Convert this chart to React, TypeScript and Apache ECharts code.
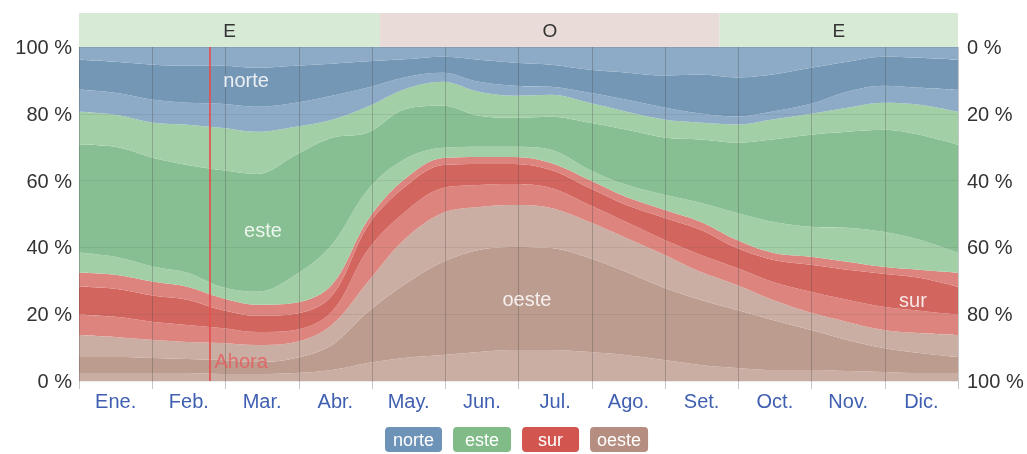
import React, { useEffect, useRef } from "react";
import * as echarts from "echarts";

const months = ["Ene.", "Feb.", "Mar.", "Abr.", "May.", "Jun.", "Jul.", "Ago.", "Set.", "Oct.", "Nov.", "Dic."];
const days = [0, 15, 31, 45, 59, 74, 90, 105, 120, 135, 151, 166, 181, 196, 212, 227, 243, 258, 273, 288, 304, 319, 334, 349, 365];

// stacked from bottom to top (% of time)
const oesteNW = [2.4, 2.4, 2.4, 2.4, 2.1, 2.1, 2.4, 3.3, 5.4, 6.9, 7.8, 8.7, 9.3, 9.3, 8.7, 7.8, 6.3, 4.8, 3.9, 3.3, 3.3, 3.0, 2.7, 2.4, 2.4];
const oestePure = [4.8, 4.8, 4.5, 4.2, 4.2, 3.6, 4.5, 7.5, 15.3, 21.9, 27.8, 30.5, 30.8, 30.5, 28.1, 24.9, 21.6, 19.5, 17.4, 15.0, 12.0, 9.3, 7.2, 6.0, 4.8];
const oesteSW = [6.6, 6.0, 5.4, 5.1, 5.1, 5.1, 4.8, 6.0, 9.0, 13.5, 14.7, 12.9, 12.6, 12.0, 10.8, 10.2, 9.9, 8.4, 7.5, 6.0, 5.1, 5.4, 5.4, 6.0, 6.6];
const surSW = [6.0, 6.0, 5.4, 5.1, 4.5, 3.9, 3.6, 3.9, 9.6, 8.1, 7.5, 6.6, 6.3, 6.0, 5.1, 4.8, 4.5, 5.1, 5.1, 5.4, 6.3, 6.6, 6.9, 6.6, 6.0];
const surPure = [8.4, 8.4, 7.8, 7.5, 5.4, 4.8, 4.8, 4.8, 7.2, 7.5, 6.9, 6.3, 6.0, 5.4, 5.1, 5.1, 6.6, 7.5, 6.0, 6.6, 8.1, 9.0, 9.9, 9.9, 8.4];
const surSE = [4.2, 4.2, 4.2, 3.9, 3.6, 3.3, 3.3, 3.3, 1.8, 2.4, 2.1, 2.1, 2.1, 2.1, 2.4, 2.4, 2.4, 2.4, 2.4, 2.1, 2.4, 2.4, 2.1, 2.4, 4.2];
const esteSE = [6.0, 5.4, 4.5, 4.2, 3.3, 3.9, 8.4, 12.0, 9.0, 6.0, 3.0, 3.0, 3.0, 3.9, 3.0, 3.6, 4.5, 5.7, 8.1, 9.3, 9.0, 10.2, 10.5, 9.0, 6.0];
const estePure = [32.3, 32.9, 32.6, 32.3, 35.0, 35.3, 35.9, 32.0, 17.1, 15.0, 12.6, 9.3, 8.7, 9.9, 14.1, 16.5, 17.1, 18.9, 21.0, 24.6, 27.5, 28.7, 30.5, 31.4, 32.3];
const esteNE = [9.9, 9.6, 10.5, 12.0, 12.6, 12.6, 8.4, 5.4, 7.8, 6.0, 7.2, 7.2, 6.6, 6.6, 6.0, 5.4, 5.4, 5.1, 5.4, 6.0, 6.3, 7.2, 8.1, 9.0, 9.9];
const norteNE = [6.6, 6.6, 6.9, 6.6, 7.2, 7.5, 7.2, 7.2, 5.7, 3.6, 2.7, 3.0, 3.0, 2.4, 3.0, 3.6, 3.6, 2.7, 2.4, 2.4, 3.0, 4.8, 5.1, 5.1, 6.6];
const nortePure = [9.0, 9.3, 10.5, 11.1, 11.4, 11.7, 11.1, 9.6, 7.8, 5.4, 4.8, 6.6, 6.9, 6.6, 6.9, 8.1, 9.6, 11.7, 11.7, 11.1, 10.8, 9.0, 8.7, 9.0, 9.0];
const norteNW = [3.9, 4.5, 5.4, 5.7, 5.7, 6.3, 5.7, 5.1, 4.5, 3.9, 3.0, 3.9, 4.8, 5.4, 6.9, 7.8, 8.7, 8.4, 9.3, 8.4, 6.3, 4.5, 3.0, 3.3, 3.9];

// predominant direction band on top
const bandLabels = ["E", "O", "E"];
const bandStarts = [0, 125, 266];
const bandEnds = [125, 266, 365];

const yTicks = [0, 20, 40, 60, 80, 100];
const nowDay = 54.4;

// in-area labels: [day, %]
const areaLabelNames = ["norte", "este", "oeste", "sur"];
const areaLabelDays = [69.4, 76.4, 186.0, 346.3];
const areaLabelPct = [90.1, 45.2, 24.6, 24.3];

const legendNames = ["norte", "este", "sur", "oeste"];

const DAY_MS = 86400000;
const T0 = Date.UTC(2023, 0, 1);
const t = (d: number) => T0 + d * DAY_MS;

export default function App() {
  const ref = useRef<HTMLDivElement>(null);
  useEffect(() => {
    const chart = echarts.init(ref.current as HTMLDivElement, null, { renderer: "svg" });
    const font = "'Liberation Sans', Arial, Helvetica, sans-serif";
    const C = {
      norteD: "#7597b6", norteL: "#8daac6",
      esteD: "#88bf92", esteL: "#a2cfa6",
      surD: "#d3655f", surL: "#dd847e",
      oesteD: "#bc9c8f", oesteL: "#caaea3",
    };
    const legendColors: Record<string, string> = {
      norte: "#6e93b8", este: "#80bb88", sur: "#d2554f", oeste: "#b68d81",
    };
    const legendPadX: Record<string, number> = { norte: 8, este: 12, sur: 16, oeste: 7 };
    const layers = [
      { name: "oeste-no", data: oesteNW, color: C.oesteL },
      { name: "oeste", data: oestePure, color: C.oesteD },
      { name: "oeste-so", data: oesteSW, color: C.oesteL },
      { name: "sur-so", data: surSW, color: C.surL },
      { name: "sur", data: surPure, color: C.surD },
      { name: "sur-se", data: surSE, color: C.surL },
      { name: "este-se", data: esteSE, color: C.esteL },
      { name: "este", data: estePure, color: C.esteD },
      { name: "este-ne", data: esteNE, color: C.esteL },
      { name: "norte-ne", data: norteNE, color: C.norteL },
      { name: "norte", data: nortePure, color: C.norteD },
      { name: "norte-no", data: norteNW, color: C.norteL },
    ];
    const series: any[] = layers.map((l) => ({
      name: l.name,
      type: "line",
      stack: "dir",
      xAxisIndex: 1,
      yAxisIndex: 0,
      data: days.map((d, i) => [t(d), l.data[i]]),
      showSymbol: false,
      symbol: "none",
      smooth: 0.35,
      color: legendColors[l.name] || l.color,
      lineStyle: { width: 0 },
      areaStyle: { color: l.color, opacity: 1 },
      silent: true,
      z: 2,
    }));
    series.push({
      name: "marcas",
      type: "line",
      xAxisIndex: 1,
      yAxisIndex: 0,
      data: [],
      silent: true,
      z: 10,
      markLine: {
        silent: true,
        symbol: ["none", "none"],
        label: { show: false },
        lineStyle: { color: "rgba(228,80,80,0.85)", width: 2, type: "solid" },
        data: [{ xAxis: t(nowDay) }],
      },
      markPoint: {
        silent: true,
        symbol: "circle",
        symbolSize: 1,
        itemStyle: { color: "rgba(0,0,0,0)" },
        data: [
          {
            name: "Ahora",
            coord: [t(nowDay), 6],
            label: {
              show: true, position: "right", distance: 4, formatter: "{b}",
              color: "rgba(226,96,96,0.85)", fontSize: 20, fontFamily: font,
            },
          },
          ...areaLabelNames.map((n, i) => ({
            name: n,
            coord: [t(areaLabelDays[i]), areaLabelPct[i]],
            label: {
              show: true, position: "inside", formatter: "{b}",
              color: "rgba(255,255,255,0.85)", fontSize: 20, fontFamily: font,
            },
          })),
        ],
      },
    });
    series.push({
      name: "banda",
      type: "line",
      xAxisIndex: 2,
      yAxisIndex: 2,
      data: [],
      silent: true,
      markArea: {
        silent: true,
        label: { show: true, position: "inside", color: "#333", fontSize: 19, fontFamily: font },
        data: bandLabels.map((lab, i) => [
          { name: lab, xAxis: bandStarts[i], itemStyle: { color: lab === "E" ? "#d6ead6" : "#e9dbd8" } },
          { xAxis: bandEnds[i] },
        ]),
      },
    });

    chart.setOption({
      animation: false,
      textStyle: { fontFamily: font },
      grid: [
        { left: 79, right: 69, top: 47, height: 334 },
        { left: 79, right: 69, top: 13, height: 34 },
      ],
      legend: {
        top: 422,
        left: 375,
        selectedMode: false,
        itemWidth: 0,
        itemHeight: 0,
        itemGap: 6,
        data: legendNames.map((n) => ({
          name: n,
          icon: "rect",
          itemStyle: { opacity: 0 },
          textStyle: {
            color: "#fff",
            fontSize: 18,
            fontFamily: font,
            backgroundColor: legendColors[n],
            borderRadius: 4,
            padding: [4, legendPadX[n], 3, legendPadX[n]],
          },
        })),
      },
      xAxis: [
        {
          type: "category",
          gridIndex: 0,
          data: months,
          boundaryGap: true,
          z: 5,
          axisLine: { show: false },
          axisTick: { show: true, length: 8, lineStyle: { color: "rgba(70,70,70,0.3)" } },
          splitLine: { show: true, lineStyle: { color: "rgba(70,70,70,0.3)", width: 1 } },
          axisLabel: { color: "#3f5fb0", fontSize: 20, margin: 10, fontFamily: font },
        },
        { type: "time", gridIndex: 0, min: t(0), max: t(365), show: false },
        { type: "value", gridIndex: 1, min: 0, max: 365, show: false },
      ],
      yAxis: [
        {
          type: "value",
          gridIndex: 0,
          min: yTicks[0],
          max: yTicks[yTicks.length - 1],
          interval: 20,
          position: "left",
          z: 5,
          axisLine: { show: false },
          axisTick: { show: false },
          splitLine: { show: true, lineStyle: { color: "rgba(80,80,80,0.12)" } },
          axisLabel: { formatter: "{value} %", color: "#333", fontSize: 20, margin: 7, fontFamily: font },
        },
        {
          type: "value",
          gridIndex: 0,
          min: yTicks[0],
          max: yTicks[yTicks.length - 1],
          interval: 20,
          inverse: true,
          position: "right",
          axisLine: { show: false },
          axisTick: { show: false },
          splitLine: { show: false },
          axisLabel: { formatter: "{value} %", color: "#333", fontSize: 20, margin: 9, fontFamily: font },
        },
        { type: "value", gridIndex: 1, min: 0, max: 1, show: false },
      ],
      series,
    });
    return () => chart.dispose();
  }, []);
  return <div ref={ref} style={{ position: "fixed", left: 0, top: 0, width: 1027, height: 454 }} />;
}
